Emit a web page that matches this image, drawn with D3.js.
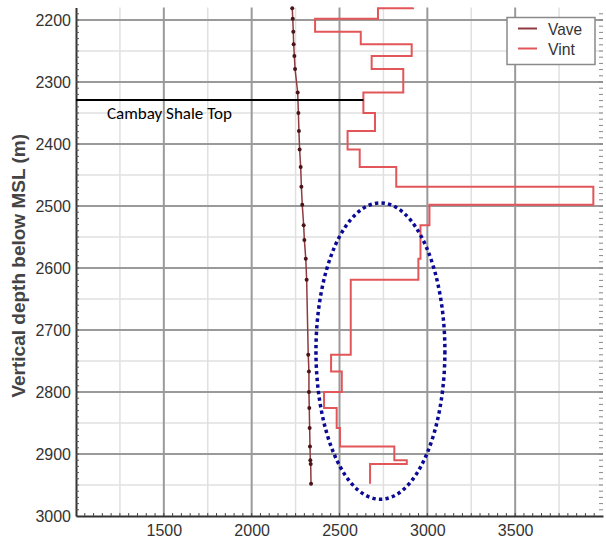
<!DOCTYPE html>
<html>
<head>
<meta charset="utf-8">
<script src="https://cdn.jsdelivr.net/npm/d3@7"></script>
<style>
  body { margin: 0; background: #fff; }
  svg { display: block; }
</style>
</head>
<body>
<div id="container"></div>
<script>
/* CONSTANTS AND GLOBALS */
const width = 606,
  height = 542,
  margin = { top: 7.6, bottom: 26, left: 76, right: 3 }

/* DATA */
// interval velocity layers: boundaries (depth, m) and velocity of each layer (m/s)
const vintDepth = [2180, 2181, 2198, 2219, 2239, 2258, 2279, 2317, 2350, 2379, 2409, 2437, 2469,
  2498, 2531, 2585, 2619, 2740, 2767, 2800, 2826, 2858, 2888, 2910, 2916, 2948]
const vintValue = [2918, 2719, 2361, 2621, 2911, 2683, 2863, 2636, 2702, 2546, 2615, 2823, 3945,
  3012, 2961, 2949, 2564, 2452, 2513, 2412, 2484, 2503, 2812, 2883, 2674]

// average velocity points
const vaveDepth = [2181, 2198, 2219, 2239, 2258, 2279, 2317, 2350, 2379, 2409, 2437, 2469, 2498,
  2531, 2555, 2585, 2619, 2740, 2767, 2800, 2826, 2858, 2888, 2910, 2916, 2948]
const vaveValue = [2231, 2234, 2237, 2239, 2243, 2247, 2262, 2266, 2269, 2273, 2279, 2283, 2288,
  2296, 2300, 2308, 2313, 2322, 2326, 2326, 2328, 2330, 2332, 2334, 2336, 2338]

const xTicks = [1500, 2000, 2500, 3000, 3500]
const yTicks = [2200, 2300, 2400, 2500, 2600, 2700, 2800, 2900, 3000]
const seriesNames = ["Vave", "Vint"]

// formation top marker and highlighted zone
const shaleTop = { depth: 2329, velocity: 2636, label: "Cambay Shale Top" }
const zone = { velocity: 2733, depth: 2734, rVel: 367, rDepth: 239 }

const colors = { Vave: "#8e3a3e", Vint: "#e2565a" }

const svg = d3.select("#container")
  .append("svg")
  .attr("width", width)
  .attr("height", height)

//scales
const xScale = d3.scaleLinear()
  .domain([1000, 4000])
  .range([margin.left, width - margin.right])

const yScale = d3.scaleLinear()
  .domain([2180, 3000])
  .range([margin.top, height - margin.bottom])

const x0 = xScale.range()[0], x1 = xScale.range()[1]
const y0 = yScale.range()[0], y1 = yScale.range()[1]

//grid - minor then major
const minorX = d3.range(1250, 4000, 500)
const minorY = d3.range(2250, 3000, 100)

svg.append("g")
  .selectAll("line")
  .data(minorX)
  .join("line")
  .attr("x1", d => xScale(d)).attr("x2", d => xScale(d))
  .attr("y1", y0).attr("y2", y1)
  .attr("stroke", "#e0e0e0")
  .attr("stroke-width", 1.5)

svg.append("g")
  .selectAll("line")
  .data(minorY)
  .join("line")
  .attr("x1", x0).attr("x2", x1)
  .attr("y1", d => yScale(d)).attr("y2", d => yScale(d))
  .attr("stroke", "#e0e0e0")
  .attr("stroke-width", 1.5)

svg.append("g")
  .selectAll("line")
  .data(xTicks)
  .join("line")
  .attr("x1", d => xScale(d)).attr("x2", d => xScale(d))
  .attr("y1", y0).attr("y2", y1)
  .attr("stroke", "#9a9a9a")
  .attr("stroke-width", 2)

svg.append("g")
  .selectAll("line")
  .data(yTicks.filter(d => d < 3000))
  .join("line")
  .attr("x1", x0).attr("x2", x1)
  .attr("y1", d => yScale(d)).attr("y2", d => yScale(d))
  .attr("stroke", "#9a9a9a")
  .attr("stroke-width", 2)

//x-axis
const xAxis = d3.axisBottom(xScale)
  .tickValues(xTicks)
  .tickSize(0)
  .tickPadding(9)
  .tickFormat(d3.format("d"))

const xAxisG = svg.append("g")
  .attr("class", "x-axis")
  .attr("transform", `translate(0, ${y1})`)
  .call(xAxis)

xAxisG.select(".domain").attr("stroke", "#333").attr("stroke-width", 2)
xAxisG.selectAll("text")
  .attr("font-family", "Liberation Sans, Arial, sans-serif")
  .attr("font-size", 16)
  .attr("fill", "#333")

// small inward ticks on the bottom
svg.append("g")
  .selectAll("line")
  .data(d3.range(1050, 4000, 50))
  .join("line")
  .attr("x1", d => xScale(d)).attr("x2", d => xScale(d))
  .attr("y1", y1).attr("y2", y1 - 3)
  .attr("stroke", "#444")

//y-axis
const yAxis = d3.axisLeft(yScale)
  .tickValues(yTicks)
  .tickSize(0)
  .tickPadding(5)
  .tickFormat(d3.format("d"))

const yAxisG = svg.append("g")
  .attr("class", "y-axis")
  .attr("transform", `translate(${x0}, 0)`)
  .call(yAxis)

yAxisG.select(".domain").attr("stroke", "#333").attr("stroke-width", 2)
yAxisG.selectAll("text")
  .attr("font-family", "Liberation Sans, Arial, sans-serif")
  .attr("font-size", 16)
  .attr("fill", "#333")

// dense inward ticks on left and right edges
svg.append("g")
  .selectAll("line")
  .data(d3.range(2190, 3000, 10))
  .join("line")
  .attr("x1", x0).attr("x2", x0 + 3)
  .attr("y1", d => yScale(d)).attr("y2", d => yScale(d))
  .attr("stroke", "#555")

svg.append("g")
  .selectAll("line")
  .data(d3.range(2190, 3000, 10))
  .join("line")
  .attr("x1", x1 - 4).attr("x2", x1)
  .attr("y1", d => yScale(d)).attr("y2", d => yScale(d))
  .attr("stroke", "#888")

svg.append("text")
  .attr("class", "yAxisLabel")
  .attr("transform", `translate(25, ${(y0 + y1) / 2 + 4}) rotate(-90)`)
  .text("Vertical depth below MSL (m)")
  .attr("fill", "#444")
  .attr("text-anchor", "middle")
  .attr("font-family", "Liberation Sans, Arial, sans-serif")
  .attr("font-weight", "bold")
  .attr("font-size", 19)

//Vint step curve
const vintPoints = []
vintValue.forEach((v, i) => {
  vintPoints.push([v, vintDepth[i]])
  vintPoints.push([v, vintDepth[i + 1]])
})

const lineGen = d3.line()
  .x(d => xScale(d[0]))
  .y(d => yScale(d[1]))

svg.append("path")
  .datum(vintPoints)
  .attr("class", "line vint")
  .attr("fill", "none")
  .attr("stroke", colors.Vint)
  .attr("stroke-width", 2)
  .attr("d", lineGen)

//Vave line with dots
const vavePoints = vaveValue.map((v, i) => [v, vaveDepth[i]])

svg.append("path")
  .datum([[vaveValue[0], 2180], ...vavePoints])
  .attr("class", "line vave")
  .attr("fill", "none")
  .attr("stroke", colors.Vave)
  .attr("stroke-width", 1.5)
  .attr("d", lineGen)

svg.selectAll(".dot")
  .data(vavePoints)
  .join("circle")
  .attr("class", "dot")
  .attr("cx", d => xScale(d[0]))
  .attr("cy", d => yScale(d[1]))
  .attr("r", 2)
  .attr("fill", "#4a1418")

//shale top marker
svg.append("line")
  .attr("x1", x0)
  .attr("x2", xScale(shaleTop.velocity))
  .attr("y1", yScale(shaleTop.depth))
  .attr("y2", yScale(shaleTop.depth))
  .attr("stroke", "#000")
  .attr("stroke-width", 2)

svg.append("text")
  .attr("x", x0 + 31)
  .attr("y", yScale(shaleTop.depth) + 19)
  .text(shaleTop.label)
  .attr("fill", "#000")
  .attr("font-family", "Carlito, Lato, sans-serif")
  .attr("font-size", 17)

//highlighted zone
svg.append("ellipse")
  .attr("cx", xScale(zone.velocity))
  .attr("cy", yScale(zone.depth))
  .attr("rx", xScale(zone.velocity + zone.rVel) - xScale(zone.velocity))
  .attr("ry", yScale(zone.depth + zone.rDepth) - yScale(zone.depth))
  .attr("fill", "none")
  .attr("stroke", "#0a0a96")
  .attr("stroke-width", 3.5)
  .attr("stroke-dasharray", "3.4 3.2")

//legend
const legend = svg.append("g")
  .attr("transform", "translate(507, 17.5)")

legend.append("rect")
  .attr("width", 88)
  .attr("height", 47)
  .attr("fill", "#fff")
  .attr("stroke", "#8a8a8a")
  .attr("stroke-width", 1.5)

legend.selectAll(".key")
  .data(seriesNames)
  .join("line")
  .attr("class", "key")
  .attr("x1", 11).attr("x2", 30)
  .attr("y1", (d, i) => 11 + i * 20)
  .attr("y2", (d, i) => 11 + i * 20)
  .attr("stroke", d => colors[d])
  .attr("stroke-width", 2)

legend.selectAll(".label")
  .data(seriesNames)
  .join("text")
  .attr("class", "label")
  .attr("x", 41)
  .attr("y", (d, i) => 17 + i * 20)
  .text(d => d)
  .attr("textLength", d => d === "Vave" ? 34 : 27)
  .attr("lengthAdjust", "spacingAndGlyphs")
  .attr("fill", "#333")
  .attr("font-family", "Liberation Sans, Arial, sans-serif")
  .attr("font-size", 17)
</script>
</body>
</html>
